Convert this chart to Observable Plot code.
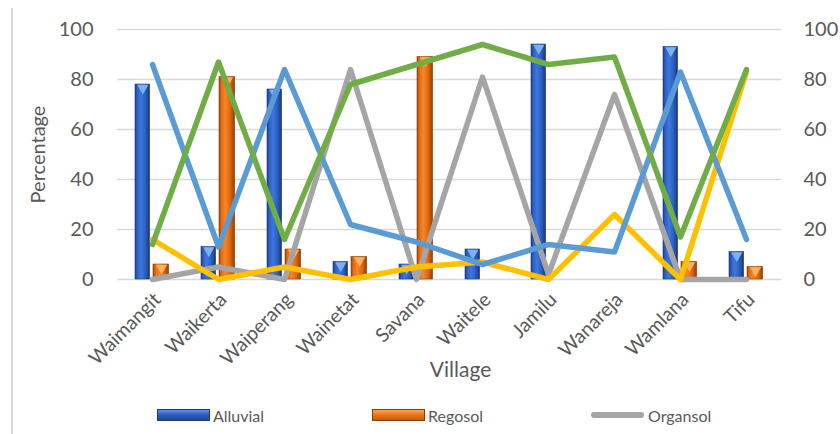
<!DOCTYPE html>
<html>
<head>
<meta charset="utf-8">
<script src="https://cdn.jsdelivr.net/npm/d3@7"></script>
<script src="https://cdn.jsdelivr.net/npm/@observablehq/plot@0.6"></script>
<style>
  html, body { margin: 0; padding: 0; background: #fff; }
  #chart { position: relative; width: 840px; height: 434px; overflow: hidden; font-family: Lato, "Open Sans", sans-serif; }
  #frame { position: absolute; left: 11px; top: 8px; width: 1.5px; height: 426px; background: #d9d9d9; }
  #legend { position: absolute; left: 0; top: 405px; width: 840px; height: 20px; font-size: 16px; color: #595959; }
  .item { position: absolute; top: 0; display: flex; align-items: center; height: 20px; }
  .sw { width: 53px; height: 12px; margin-right: 3px; box-sizing: border-box; }
  .ln { width: 53px; height: 6px; border-radius: 3px; margin-right: 4px; background: #a5a5a5; }
</style>
</head>
<body>
<div id="chart"><div id="frame"></div></div>
<script>
// Villages along the x axis
const villages = ["Waimangit", "Waikerta", "Waiperang", "Wainetat", "Savana", "Waitele", "Jamilu", "Wanareja", "Wamlana", "Tifu"];

// Soil type shares (%) per village
const alluvial = [78, 13, 76, 7, 6, 12, 94, 0, 93, 11];
const regosol  = [6, 81, 12, 9, 89, 0, 0, 0, 7, 5];
const organsol = [0, 5, 0, 84, 0, 81, 2, 74, 0, 0];

// Further series plotted as lines
const series4 = [16, 0, 5, 0, 5, 7, 0, 26, 0, 83];   // gold
const series5 = [86, 13, 84, 22, 15, 6, 14, 11, 83, 16]; // light blue
const series6 = [14, 87, 16, 78, 86, 94, 86, 89, 17, 84]; // green

const yTicks = [0, 20, 40, 60, 80, 100];

const rows = (vals) => villages.map((v, i) => ({village: v, value: vals[i]}));
const barsA = rows(alluvial);
const barsR = rows(regosol);

const lineStyle = {strokeWidth: 5.5, strokeLinejoin: "round", strokeLinecap: "round"};

const plot = Plot.plot({
  width: 840,
  height: 396,
  marginLeft: 117,
  marginRight: 59,
  marginTop: 29,
  marginBottom: 117,
  style: {fontFamily: "Lato, 'Open Sans', sans-serif", background: "transparent"},
  x: {type: "band", domain: villages, padding: 0},
  y: {domain: [0, 100]},
  marks: [
    Plot.gridY(yTicks, {stroke: "#d9d9d9", strokeOpacity: 1, strokeWidth: 1.5}),
    Plot.axisY(yTicks, {anchor: "left", tickSize: 0, tickPadding: 24, fontSize: 20, fill: "#595959", label: null}),
    Plot.axisY(yTicks, {anchor: "right", tickSize: 0, tickPadding: 22, fontSize: 20, fill: "#595959", textAnchor: "start", label: null}),
    Plot.axisX({tickSize: 0, tickRotate: -45, tickPadding: 17, dx: 5, fontSize: 19.5, fill: "#595959", label: null}),
    Plot.text(["Percentage"], {frameAnchor: "left", textAnchor: "middle", rotate: -90, dx: -79, fontSize: 20, fill: "#595959"}),
    Plot.text(["Village"], {frameAnchor: "bottom", dx: 11, dy: 97, fontSize: 21, fill: "#595959"}),
    // Alluvial and Regosol bars with bevelled fill
    Plot.barY(barsA, {x: "village", y: "value", fill: "url(#gradA)", insetLeft: 16, insetRight: 35.4, stroke: "#1b3a7a", strokeWidth: 0.6}),
    Plot.barY(barsR, {x: "village", y: "value", fill: "url(#gradR)", insetLeft: 34, insetRight: 16.4, stroke: "#8a3c05", strokeWidth: 0.6}),
    Plot.dot(barsA.filter(d => d.value > 0), {x: "village", y: "value", symbol: "triangle", rotate: 180, r: 4.2, fill: "#7fb0f5", dx: -9.7, dy: 3.5}),
    Plot.dot(barsR.filter(d => d.value > 0), {x: "village", y: "value", symbol: "triangle", rotate: 180, r: 4.2, fill: "#ffb25e", dx: 9, dy: 3.5}),
    // Lines
    Plot.lineY(rows(organsol), {x: "village", y: "value", stroke: "#a5a5a5", ...lineStyle}),
    Plot.lineY(rows(series4), {x: "village", y: "value", stroke: "#ffc000", ...lineStyle}),
    Plot.lineY(rows(series5), {x: "village", y: "value", stroke: "#5b9bd5", ...lineStyle}),
    Plot.lineY(rows(series6), {x: "village", y: "value", stroke: "#70ad47", ...lineStyle})
  ]
});

// Gradients for the bevelled bar look
const svg = d3.select(plot);
const defs = svg.insert("defs", ":first-child");
function grad(id, stops) {
  const g = defs.append("linearGradient").attr("id", id).attr("x1", "0").attr("x2", "1").attr("y1", "0").attr("y2", "0");
  stops.forEach(([o, c]) => g.append("stop").attr("offset", o).attr("stop-color", c));
}
grad("gradA", [[0, "#1d3f8c"], [0.15, "#2b5fc4"], [0.4, "#3d78de"], [0.7, "#2d60c2"], [1, "#1a3777"]]);
grad("gradR", [[0, "#a04506"], [0.15, "#e36c10"], [0.4, "#f7862a"], [0.7, "#e06a10"], [1, "#943f05"]]);

const chart = document.getElementById("chart");
plot.style.position = "absolute";
plot.style.left = "0";
plot.style.top = "0";
chart.appendChild(plot);

// Legend
const legend = document.createElement("div");
legend.id = "legend";
legend.innerHTML = `
  <div class="item" style="left:157px"><div class="sw" style="background:linear-gradient(#5f95ec,#2d5fc0 45%,#1f4799);border:1px solid #1b3a7a"></div>Alluvial</div>
  <div class="item" style="left:372px"><div class="sw" style="background:linear-gradient(#ffa552,#ec7a22 45%,#c45a0a);border:1px solid #8a3c05"></div>Regosol</div>
  <div class="item" style="left:591px"><div class="ln"></div>Organsol</div>`;
chart.appendChild(legend);
</script>
</body>
</html>
